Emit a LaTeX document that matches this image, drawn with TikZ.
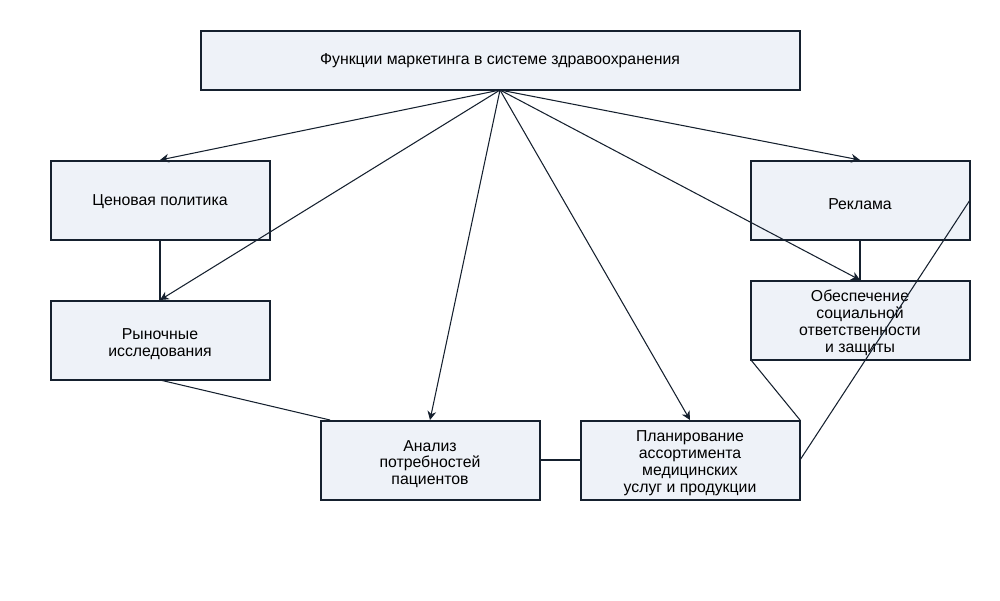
\documentclass[tikz,border=0pt]{standalone}
\usepackage{fontspec}
\setmainfont{Liberation Sans}
\usetikzlibrary{arrows.meta}
\definecolor{bx}{HTML}{EEF2F8}
\definecolor{ln}{HTML}{15202E}
\begin{document}
\begin{tikzpicture}[x=0.02cm,y=-0.02cm,
 box/.style={draw=ln,fill=bx,line width=0.8pt},
 txt/.style={font=\fontsize{9}{9.6}\selectfont,align=center,text=black},
 con/.style={draw=ln,line width=0.6pt},
 arr/.style={con,-{Stealth[length=5pt,width=5pt]}}]
\useasboundingbox (0,0) rectangle (1000,600);
\draw[box] (201,31) rectangle (800,90);
\node[txt] (top) at (500,61) {Функции маркетинга в системе здравоохранения};
\draw[box] (51,161) rectangle (270,240);
\node[txt] (cen) at (160,202) {Ценовая политика};
\draw[box] (751,161) rectangle (970,240);
\node[txt] (rek) at (860,204) {Реклама};
\draw[box] (51,301) rectangle (270,380);
\node[txt] (ryn) at (160,344) {Рыночные\\исследования};
\draw[box] (751,281) rectangle (970,360);
\node[txt] (obe) at (860,323) {Обеспечение\\социальной\\ответственности\\и защиты};
\draw[box] (321,421) rectangle (540,500);
\node[txt] (ana) at (430,464) {Анализ\\потребностей\\пациентов};
\draw[box] (581,421) rectangle (800,500);
\node[txt] (pla) at (690,463) {Планирование\\ассортимента\\медицинских\\услуг и продукции};
\coordinate (s) at (500,90);
\coordinate (cenb) at (160,240); \coordinate (cent) at (160,160);
\coordinate (rynt) at (160,300); \coordinate (rynb) at (160,380);
\coordinate (anat) at (430,420); \coordinate (anal) at (330,420); \coordinate (anar) at (540,460);
\coordinate (plat) at (690,420); \coordinate (plal) at (580,460); \coordinate (plar) at (800,460); \coordinate (platr) at (800,420);
\coordinate (rekt) at (860,160); \coordinate (rekb) at (860,240); \coordinate (rekr) at (970,200);
\coordinate (obet) at (860,280); \coordinate (obebl) at (751,360);
\draw[arr] (s) -- (cent);
\draw[arr] (s) -- (rynt);
\draw[arr] (s) -- (anat);
\draw[arr] (s) -- (plat);
\draw[arr] (s) -- (rekt);
\draw[arr] (s) -- (obet);
\draw[con] (cenb) -- (rynt);
\draw[con] (rekb) -- (obet);
\draw[con] (rynb) -- (anal);
\draw[con] (anar) -- (plal);
\draw[con] (obebl) -- (platr);
\draw[con] (plar) -- (rekr);
\end{tikzpicture}
\end{document}
